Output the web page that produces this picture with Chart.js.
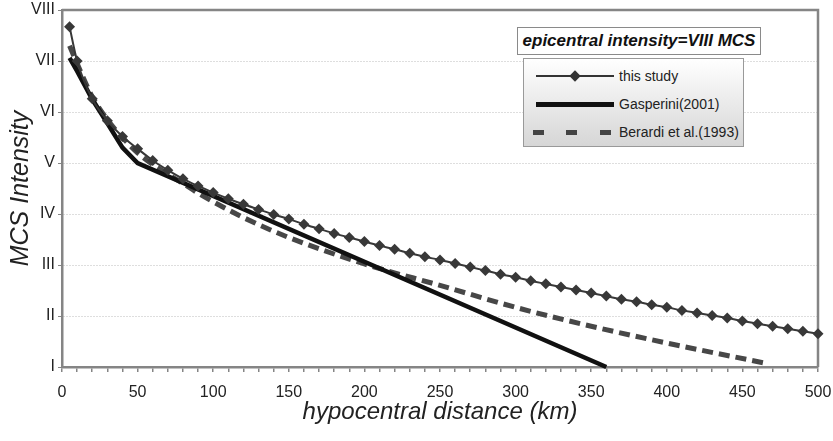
<!DOCTYPE html>
<html>
<head>
<meta charset="utf-8">
<script src="https://cdn.jsdelivr.net/npm/chart.js@4"></script>
<style>
    body { margin: 0; background: #fff; font-family: "Liberation Sans", Arial, sans-serif; }
    #wrap { position: relative; width: 833px; height: 441px; }
    #title-box {
        position: absolute; left: 517px; top: 27px; width: 242px; height: 26px;
        border: 1px solid #8a8a8a; background: #fff;
        font: italic bold 17px "Liberation Sans", Arial, sans-serif; color: #111;
        line-height: 26px; text-align: center;
    }
    #legend-box {
        position: absolute; left: 523px; top: 58px; width: 219px; height: 87px;
        border: 1px solid #999; background: linear-gradient(#ffffff, #d6d6d6);
        font-size: 14px; color: #222;
    }
    .row { position: absolute; left: 0; width: 219px; height: 20px; }
    .row span { position: absolute; left: 95px; top: 2px; }
    .thin { position: absolute; left: 12px; top: 9px; width: 78px; height: 2px; background: #333; }
    .dia { position: absolute; left: 47px; top: 6px; width: 8px; height: 8px; background: #333; transform: rotate(45deg); }
    .thick { position: absolute; left: 12px; top: 8px; width: 78px; height: 5px; background: #111; }
    .dash { position: absolute; top: 8px; width: 11px; height: 5px; background: #444; }
</style>
</head>
<body>
<div id="wrap">
    <canvas id="chart" width="833" height="441"></canvas>
    <div id="title-box">epicentral intensity=VIII MCS</div>
    <div id="legend-box">
        <div class="row" style="top:7px"><div class="thin"></div><div class="dia"></div><span>this study</span></div>
        <div class="row" style="top:35px"><div class="thick"></div><span>Gasperini(2001)</span></div>
        <div class="row" style="top:63px"><div class="dash" style="left:9px"></div><div class="dash" style="left:42px"></div><div class="dash" style="left:76px"></div><span>Berardi et al.(1993)</span></div>
    </div>
</div>
<script>
// values
const romanLabels = ['', 'I', 'II', 'III', 'IV', 'V', 'VI', 'VII', 'VIII'];

const studyDist = [5, 10, 20, 30, 40, 50, 60, 70, 80, 90, 100, 110, 120, 130, 140, 150, 160, 170, 180, 190,
    200, 210, 220, 230, 240, 250, 260, 270, 280, 290, 300, 310, 320, 330, 340, 350, 360, 370, 380, 390,
    400, 410, 420, 430, 440, 450, 460, 470, 480, 490, 500];
const studyInt = [7.67, 7.0, 6.26, 5.83, 5.52, 5.28, 5.05, 4.86, 4.69, 4.55, 4.42, 4.30, 4.19, 4.09, 3.99, 3.90, 3.80, 3.71, 3.62, 3.54,
    3.46, 3.38, 3.31, 3.23, 3.16, 3.10, 3.03, 2.96, 2.89, 2.82, 2.76, 2.69, 2.63, 2.57, 2.51, 2.45, 2.39, 2.33, 2.28, 2.22,
    2.17, 2.11, 2.06, 2.01, 1.96, 1.90, 1.85, 1.80, 1.75, 1.70, 1.65];

const gasperiniDist = [5, 10, 20, 30, 40, 50, 360];
const gasperiniInt = [7.06, 6.8, 6.25, 5.78, 5.3, 5.0, 1.0];

const berardiDist = [5, 10, 20, 30, 40, 50, 60, 70, 80, 90, 100, 120, 150, 200, 250, 300, 350, 400, 466];
const berardiInt = [7.3, 6.95, 6.3, 5.85, 5.5, 5.2, 4.97, 4.78, 4.6, 4.41, 4.24, 3.93, 3.54, 3.02, 2.6, 2.17, 1.8, 1.47, 1.07];

const toPoints = (xs, ys) => xs.map((x, i) => ({ x: x, y: ys[i] }));

const fontFamily = '"Liberation Sans", Arial, sans-serif';
const frameColor = '#858585';

// grey frame on top and right of plot area
const framePlugin = {
    id: 'frame',
    beforeDatasetsDraw(chart) {
        const { ctx, chartArea } = chart;
        ctx.save();
        ctx.strokeStyle = frameColor;
        ctx.lineWidth = 2.5;
        ctx.beginPath();
        ctx.moveTo(chartArea.left, chartArea.top);
        ctx.lineTo(chartArea.right, chartArea.top);
        ctx.lineTo(chartArea.right, chartArea.bottom);
        ctx.stroke();
        ctx.restore();
    }
};

const ctx = document.getElementById('chart').getContext('2d');
new Chart(ctx, {
    type: 'line',
    data: {
        datasets: [{
            label: 'this study',
            data: toPoints(studyDist, studyInt),
            borderColor: '#383838',
            backgroundColor: '#383838',
            borderWidth: 2,
            pointStyle: 'rectRot',
            pointRadius: 5.5,
            pointBorderWidth: 0,
            cubicInterpolationMode: 'monotone',
            order: 0,
            clip: false
        }, {
            label: 'Gasperini(2001)',
            data: toPoints(gasperiniDist, gasperiniInt),
            borderColor: '#111',
            borderWidth: 4.5,
            pointRadius: 0,
            tension: 0,
            order: 1,
            clip: false
        }, {
            label: 'Berardi et al.(1993)',
            data: toPoints(berardiDist, berardiInt),
            borderColor: '#474747',
            borderWidth: 5,
            borderDash: [11, 6],
            pointRadius: 0,
            cubicInterpolationMode: 'monotone',
            order: 2,
            clip: false
        }]
    },
    options: {
        responsive: false,
        animation: false,
        layout: { padding: { top: 10, right: 15, left: 0, bottom: 0 } },
        plugins: { legend: { display: false }, tooltip: { enabled: false } },
        scales: {
            x: {
                type: 'linear',
                min: 0,
                max: 500,
                afterFit: (s) => { s.height = 74; s.paddingLeft = 0; s.paddingRight = 0; },
                ticks: {
                    stepSize: 10,
                    autoSkip: false,
                    maxRotation: 0,
                    padding: 11,
                    color: '#222',
                    font: { family: fontFamily, size: 16 },
                    callback: (v) => (v % 50 === 0 ? String(v) : '')
                },
                grid: { drawOnChartArea: false, tickLength: 5, color: frameColor, lineWidth: 1.5 },
                border: { color: frameColor, width: 2.5 },
                title: {
                    display: true,
                    text: 'hypocentral distance (km)',
                    color: '#222',
                    font: { family: fontFamily, size: 24, style: 'italic' },
                    padding: { top: 4, bottom: 14 }
                }
            },
            y: {
                min: 1,
                max: 8,
                afterFit: (s) => { s.width = 62; s.paddingTop = 0; s.paddingBottom = 0; },
                ticks: {
                    stepSize: 1,
                    padding: 3,
                    color: '#222',
                    font: { family: fontFamily, size: 16 },
                    callback: (v) => romanLabels[v]
                },
                grid: { color: '#bdbdbd', tickColor: frameColor, tickLength: 4, lineWidth: 1 },
                border: { color: frameColor, width: 2.5, dash: [1, 2] },
                title: {
                    display: true,
                    text: 'MCS Intensity',
                    color: '#222',
                    font: { family: fontFamily, size: 25, style: 'italic' },
                    padding: { top: 6, bottom: 0 }
                }
            }
        }
    },
    plugins: [framePlugin]
});
</script>
</body>
</html>
